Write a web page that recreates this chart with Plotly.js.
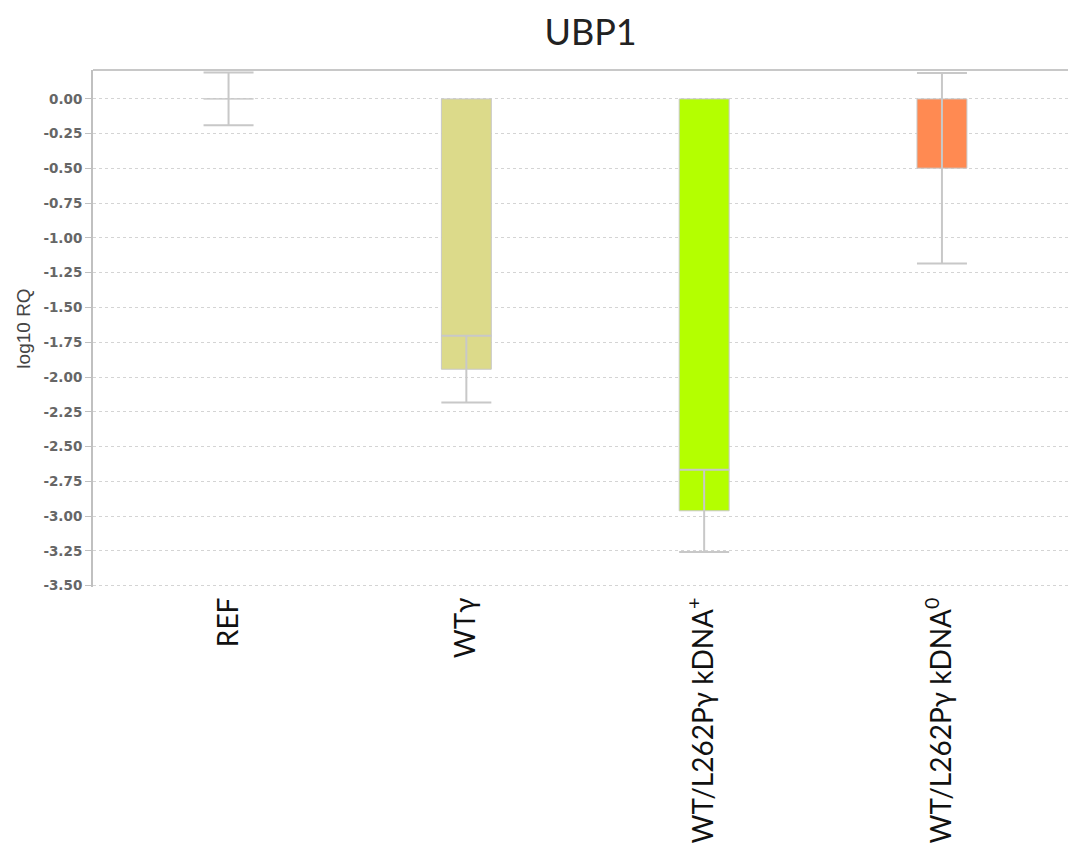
<!DOCTYPE html>
<html>
<head>
<meta charset="utf-8">
<script src="https://cdn.plot.ly/plotly-3.0.1.min.js"></script>
<style>html,body{margin:0;padding:0;background:#fff;}#chart{width:1068px;height:856px;}</style>
</head>
<body>
<div id="chart"></div>
<script>
// Data
const categories = ["REF", "WTγ", "WT/L262Pγ kDNA<sup>+</sup>", "WT/L262Pγ kDNA<sup>0</sup>"];
const log10RQ = [0, -1.944, -2.962, -0.498];
const errorSD = [0.19, 0.24, 0.296, 0.685];
const barColors = ["#ffffff", "#dcda8a", "#b4ff00", "#ff8a52"];
const yTickValues = [0, -0.25, -0.5, -0.75, -1, -1.25, -1.5, -1.75, -2, -2.25, -2.5, -2.75, -3, -3.25, -3.5];
const yTickLabels = ["0.00", "-0.25", "-0.50", "-0.75", "-1.00", "-1.25", "-1.50", "-1.75", "-2.00", "-2.25", "-2.50", "-2.75", "-3.00", "-3.25", "-3.50"];

const xIdx = categories.map((c, i) => i);

const trace = {
  type: "bar",
  x: xIdx,
  y: log10RQ,
  width: 0.21,
  marker: { color: barColors, line: { color: "#c8c8c8", width: 1 } },
  error_y: { type: "data", array: errorSD, visible: true, color: "#c8c8c8", thickness: 2, width: 25 },
  hoverinfo: "y"
};

const layout = {
  width: 1068,
  height: 856,
  margin: { l: 93, r: 0, t: 70, b: 269 },
  paper_bgcolor: "#ffffff",
  plot_bgcolor: "#ffffff",
  showlegend: false,
  title: {
    text: "UBP1",
    font: { family: "Lato, 'Open Sans', sans-serif", size: 36, color: "#222" },
    x: 0.553, xref: "container", xanchor: "center",
    y: 0.962, yref: "container", yanchor: "middle"
  },
  xaxis: {
    range: [-0.57, 3.53],
    tickvals: xIdx,
    ticktext: categories,
    tickangle: -90,
    ticks: "",
    showgrid: false,
    zeroline: false,
    showline: false,
    ticklabelstandoff: 4,
    tickfont: { family: "Lato, 'Open Sans', sans-serif", size: 28, color: "#111" }
  },
  yaxis: {
    range: [-3.51, 0.208],
    tickvals: yTickValues,
    ticktext: yTickLabels,
    ticks: "outside",
    ticklen: 6,
    tickcolor: "#c0c0c0",
    tickwidth: 1,
    showline: true,
    linecolor: "#c0c0c0",
    linewidth: 2,
    showgrid: true,
    gridcolor: "#d4d4d4",
    griddash: "dot",
    gridwidth: 1,
    zeroline: false,
    tickfont: { family: "'DejaVu Sans', sans-serif", size: 13.5, color: "#666", weight: "bold" },
    title: {
      text: "log10 RQ",
      font: { family: "'Liberation Sans', Arial, sans-serif", size: 19, color: "#444" },
      standoff: 8
    }
  },
  shapes: [
    { type: "line", xref: "paper", yref: "paper", x0: 0, x1: 1, y0: 1, y1: 1, line: { color: "#c8c8c8", width: 2 } }
  ]
};

Plotly.newPlot("chart", [trace], layout, { displayModeBar: false, staticPlot: true });
</script>
</body>
</html>
